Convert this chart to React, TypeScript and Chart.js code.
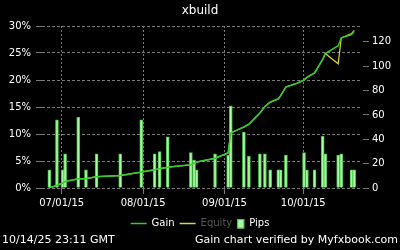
import React, { useEffect, useRef } from 'react';
import { Chart, registerables } from 'chart.js';

Chart.register(...registerables);

// Day numbers counted from 2015-06-01 (day 0)
const pipDays = [25.3, 28.2, 30.4, 31.3, 36.3, 39.25, 43.3, 52.3, 60.3, 65.4, 67.3, 70.4, 79.2, 80.4, 81.4, 88.4, 93.4, 94.4, 99.4, 101.3, 105.5, 107.4, 109.4, 112.5, 113.4, 115.4, 122.3, 123.4, 126.3, 129.4, 130.4, 135.3, 136.5, 140.4, 141.4];
const pipValues = [15, 56, 15, 28, 58, 15, 28, 28, 56, 28, 30, 42, 29, 23, 15, 28, 27, 67.5, 46, 26, 28, 28, 15, 15, 15, 27, 29, 15, 15, 42.5, 28, 27, 28, 15, 15];

const gainDays = [25.3, 28.2, 30.4, 31.3, 36.3, 39.25, 43.3, 52.3, 60.3, 65.4, 67.3, 70.4, 79.2, 80.4, 81.4, 88.4, 93.4, 94.4, 99.4, 101.3, 105.5, 107.4, 109.4, 112.5, 113.4, 115.4, 119.6, 122.3, 123.4, 126.3, 129.4, 130.4, 135.3, 136.5, 140.4, 141.4];
const gainValues = [0, 0.5, 0.93, 1.2, 1.7, 1.72, 2.1, 2.3, 2.95, 3.4, 3.55, 3.85, 4.3, 4.6, 4.8, 5.5, 6.5, 10.2, 11.3, 11.8, 13.9, 15.1, 15.9, 16.5, 17.1, 18.7, 19.4, 20.0, 20.5, 21.3, 23.8, 24.9, 26.35, 27.8, 28.4, 29.0];
const equityValues = [0, 0.5, 0.93, 1.2, 1.7, 1.72, 2.1, 2.3, 2.95, 3.4, 3.55, 3.85, 4.3, 4.6, 4.8, 5.5, 6.5, 10.2, 11.3, 11.8, 13.9, 15.1, 15.9, 16.5, 17.1, 18.7, 19.4, 20.0, 20.5, 21.3, 23.8, 24.9, 23.0, 27.8, 28.6, 29.2];

const monthTickDays = [30, 61, 92, 122];
const monthTickLabels = ['07/01/15', '08/01/15', '09/01/15', '10/01/15'];
const leftTicks = [0, 5, 10, 15, 20, 25, 30];
const rightTicks = [0, 20, 40, 60, 80, 100, 120];

const titleText = 'xbuild';
const footerLeft = '10/14/25 23:11 GMT';
const footerRight = 'Gain chart verified by Myfxbook.com';

const GAIN_COLOR = '#2ecc2e';
const EQUITY_COLOR = '#d8d830';
const BAR_FILL = '#a6ffa0';
const BAR_BORDER = '#4fc04f';
const GRID = '#7a7a7a';
const FONT = '"DejaVu Sans", sans-serif';

const overlayPlugin = {
  id: 'overlayTexts',
  afterDraw(chart: any) {
    const ctx = chart.ctx;
    ctx.save();
    // legend
    ctx.font = `10px ${FONT}`;
    ctx.textBaseline = 'middle';
    ctx.textAlign = 'left';
    const items = chart.data.datasets.map((ds: any) => ({
      kind: ds.type === 'bar' ? 'box' : 'line',
      label: ds.label,
      color: ds.type === 'bar' ? ds.backgroundColor : ds.borderColor,
      border: ds.borderColor,
      textColor: ds.legendTextColor || '#fff',
    }));
    const order = ['Gain', 'Equity', 'Pips'];
    items.sort((a: any, b: any) => order.indexOf(a.label) - order.indexOf(b.label));
    const gap = 5;
    const widths = items.map((it: any) => (it.kind === 'line' ? 16 : 7) + 5 + ctx.measureText(it.label).width);
    const total = widths.reduce((a: number, b: number) => a + b, 0) + gap * (items.length - 1);
    let x = 200 - total / 2;
    const y = 223.5;
    items.forEach((it: any) => {
      if (it.kind === 'line') {
        ctx.strokeStyle = it.color;
        ctx.lineWidth = 1.5;
        ctx.beginPath();
        ctx.moveTo(x, y);
        ctx.lineTo(x + 16, y);
        ctx.stroke();
        x += 16 + 5;
      } else {
        ctx.fillStyle = it.color;
        ctx.fillRect(x, y - 4.5, 7, 9.5);
        ctx.strokeStyle = it.border;
        ctx.lineWidth = 1;
        ctx.strokeRect(x + 0.5, y - 4, 6, 8.5);
        x += 7 + 5;
      }
      ctx.fillStyle = it.textColor;
      ctx.fillText(it.label, x, y);
      x += ctx.measureText(it.label).width + gap;
    });
    // footer
    ctx.font = `11px ${FONT}`;
    ctx.textBaseline = 'alphabetic';
    ctx.fillStyle = '#fff';
    ctx.textAlign = 'left';
    ctx.fillText(footerLeft, 2, 243);
    ctx.textAlign = 'right';
    ctx.fillText(footerRight, 398, 243);
    ctx.restore();
  },
};

export default function App() {
  const ref = useRef<HTMLCanvasElement | null>(null);

  useEffect(() => {
    document.body.style.margin = '0';
    document.body.style.background = '#000';
    Chart.defaults.font.family = FONT;
    const canvas = ref.current!;
    const chart = new Chart(canvas, {
      type: 'line',
      data: {
        datasets: [
          {
            type: 'line',
            label: 'Gain',
            data: gainDays.map((d, i) => ({ x: d, y: gainValues[i] })),
            borderColor: GAIN_COLOR,
            backgroundColor: GAIN_COLOR,
            borderWidth: 1.5,
            pointRadius: 0,
            tension: 0,
            yAxisID: 'y',
            order: 0,
          },
          {
            type: 'line',
            label: 'Equity',
            data: gainDays.map((d, i) => ({ x: d, y: equityValues[i] })),
            borderColor: EQUITY_COLOR,
            backgroundColor: EQUITY_COLOR,
            borderWidth: 1.2,
            pointRadius: 0,
            tension: 0,
            yAxisID: 'y',
            order: 1,
            legendTextColor: '#5a5a5a',
          } as any,
          {
            type: 'bar',
            label: 'Pips',
            data: pipDays.map((d, i) => ({ x: d, y: pipValues[i] })),
            backgroundColor: BAR_FILL,
            borderColor: BAR_BORDER,
            borderWidth: 1,
            barThickness: 3,
            yAxisID: 'y2',
            order: 2,
          } as any,
        ],
      },
      options: {
        responsive: false,
        animation: false,
        devicePixelRatio: 1,
        layout: { padding: 0 },
        plugins: {
          legend: { display: false },
          tooltip: { enabled: false },
          title: {
            display: true,
            text: titleText,
            color: '#fff',
            font: { size: 12, weight: 'normal', family: FONT },
            padding: { top: 4, bottom: 7.6 },
          },
        },
        scales: {
          x: {
            type: 'linear',
            min: 22.5,
            max: 144,
            offset: false,
            afterBuildTicks: (s: any) => {
              s.ticks = monthTickDays.map((v) => ({ value: v }));
            },
            afterFit: (s: any) => {
              s.height = 62;
            },
            ticks: {
              color: '#fff',
              font: { size: 10 },
              padding: 3,
              maxRotation: 0,
              autoSkip: false,
              callback: (_v: any, i: number) => monthTickLabels[i],
            },
            grid: { color: GRID, tickLength: 6, tickBorderDash: [], offset: false } as any,
            border: { display: false, dash: [2, 2] },
          },
          y: {
            position: 'left',
            min: 0,
            max: 30,
            afterBuildTicks: (s: any) => {
              s.ticks = leftTicks.map((v) => ({ value: v }));
            },
            afterFit: (s: any) => {
              s.width = 42;
            },
            ticks: {
              color: '#fff',
              font: { size: 10 },
              padding: 5,
              callback: (v: any) => `${v}%`,
            },
            grid: { color: GRID, tickLength: 6, tickBorderDash: [] } as any,
            border: { display: false, dash: [3, 2] },
          },
          y2: {
            position: 'right',
            min: 0,
            max: 133,
            afterBuildTicks: (s: any) => {
              s.ticks = rightTicks.map((v) => ({ value: v }));
            },
            afterFit: (s: any) => {
              s.width = 39;
            },
            ticks: {
              color: '#fff',
              font: { size: 10 },
              padding: 3,
            },
            grid: { color: GRID, tickLength: 8, drawOnChartArea: false, tickBorderDash: [0, 2, 6, 0] } as any,
            border: { display: false },
          },
        },
      },
      plugins: [overlayPlugin],
    } as any);
    return () => chart.destroy();
  }, []);

  return (
    <div style={{ width: 400, height: 250, background: '#000' }}>
      <canvas ref={ref} width={400} height={250} style={{ display: 'block' }} />
    </div>
  );
}
